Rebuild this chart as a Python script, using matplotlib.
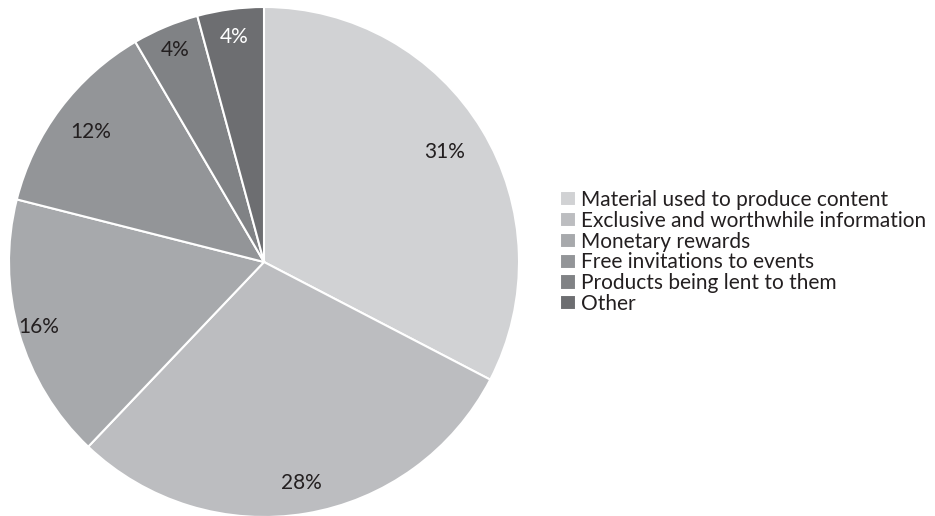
import matplotlib.pyplot as plt
import numpy as np

# Share of responses by incentive type
categories = [
    'Material used to produce content',
    'Exclusive and worthwhile information',
    'Monetary rewards',
    'Free invitations to events',
    'Products being lent to them',
    'Other',
]
shares = [31, 28, 16, 12, 4, 4]
pct_labels = ['31%', '28%', '16%', '12%', '4%', '4%']
colors = ['#d1d2d4', '#bcbdc0', '#a7a9ac', '#939598', '#808285', '#6d6e71']
label_colors = ['#231f20', '#231f20', '#231f20', '#231f20', '#231f20', '#ffffff']

plt.rcParams['font.family'] = ['Lato', 'DejaVu Sans']

fig = plt.figure(figsize=(9.35, 5.16), dpi=100)
W, H = 935, 516
cx, cy, r = 264, 254, 255
ax = fig.add_axes([(cx - r) / W, (cy - r) / H, 2 * r / W, 2 * r / H])

wedges, _ = ax.pie(
    shares,
    colors=colors,
    startangle=90,
    counterclock=False,
    radius=1,
    wedgeprops=dict(edgecolor='white', linewidth=1.5),
)
ax.set_xlim(-1, 1)
ax.set_ylim(-1, 1)
ax.set_aspect('equal')
ax.axis('off')

# percentage labels placed along each wedge's mid angle
dists = [0.83, 0.88, 0.92, 0.85, 0.90, 0.89]
for w, txt, d, c in zip(wedges, pct_labels, dists, label_colors):
    mid = np.deg2rad((w.theta1 + w.theta2) / 2)
    ax.text(d * np.cos(mid), d * np.sin(mid), txt, ha='center', va='center',
            fontsize=15, color=c)

fig.legend(wedges, categories, loc='center left',
           bbox_to_anchor=(552 / W, 1 - 252 / H), frameon=False,
           fontsize=15, handlelength=0.75, handleheight=0.75,
           handletextpad=0.25, labelspacing=0.04, borderaxespad=0,
           labelcolor='#231f20')

fig.savefig('out.png', dpi=100)
